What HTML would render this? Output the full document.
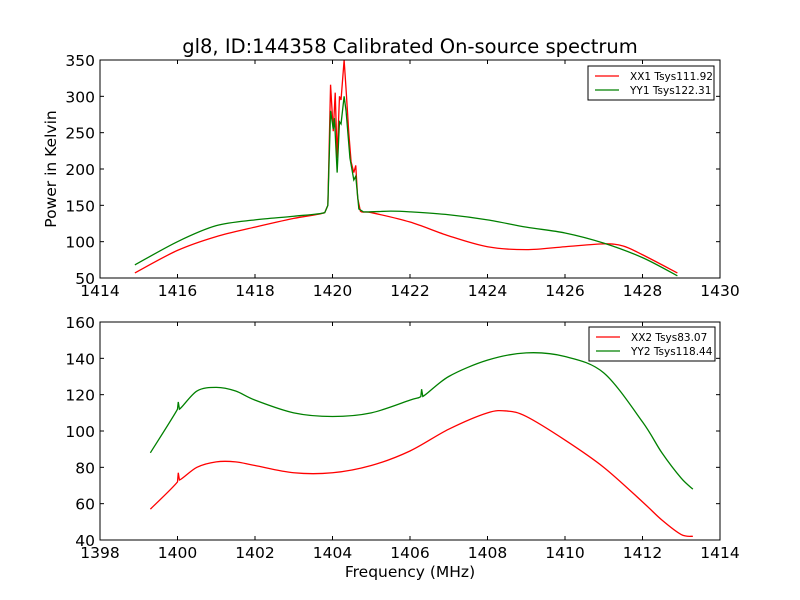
<!DOCTYPE html>
<html><head><meta charset="utf-8"><style>
body{margin:0;background:#fff;}
svg{display:block;font-family:"DejaVu Sans","Liberation Sans",sans-serif;}
</style></head><body>
<svg id="c" width="800" height="600"></svg>
<script>
const topTicksX=[1414,1416,1418,1420,1422,1424,1426,1428,1430];
const topTicksY=[50,100,150,200,250,300,350];
const botTicksX=[1398,1400,1402,1404,1406,1408,1410,1412,1414];
const botTicksY=[40,60,80,100,120,140,160];
const xx1F=[1414.9,1416,1417,1418,1419,1419.8,1419.88,1419.95,1420.02,1420.07,1420.12,1420.18,1420.22,1420.3,1420.35,1420.42,1420.48,1420.55,1420.6,1420.65,1420.72,1421,1422,1423,1424,1425,1426,1427,1427.5,1428,1428.9];
const xx1V=[57,88,107,120,132,140,150,316,252,305,215,300,295,350,310,250,210,195,205,160,142,140,127,108,93,89,93,97,94,82,57];
const yy1F=[1414.9,1416,1417,1418,1419,1419.8,1419.88,1419.95,1420.02,1420.05,1420.12,1420.18,1420.22,1420.3,1420.35,1420.45,1420.5,1420.55,1420.6,1420.68,1420.8,1421.5,1422,1423,1424,1425,1426,1427,1428,1428.9];
const yy1V=[68,100,122,130,135,140,150,280,255,270,195,265,262,300,280,215,200,185,190,145,141,142,141,137,130,120,112,98,78,53];
const xx2F=[1399.3,1400,1400.02,1400.05,1400.5,1401,1401.5,1402,1403,1404,1405,1406,1407,1408,1408.5,1409,1410,1411,1412,1412.5,1413,1413.3];
const xx2V=[57,72,77,73,80,83,83,81,77,77,81,89,101,110,111,108,95,80,61,51,43,42];
const yy2F=[1399.3,1400,1400.02,1400.05,1400.5,1401,1401.5,1402,1403,1404,1405,1406,1406.28,1406.3,1406.33,1407,1408,1409,1410,1411,1412,1412.5,1413,1413.3];
const yy2V=[88,112,116,112,122,124,122,117,110,108,110,117,119,123,119,130,139,143,141,132,105,88,74,68];
const NS="http://www.w3.org/2000/svg";
const svg=document.getElementById('c');
function mk(t,a,p){const e=document.createElementNS(NS,t);for(const k in a)e.setAttribute(k,a[k]);(p||svg).appendChild(e);return e;}
function smooth(pts){
  let d='M'+pts[0][0].toFixed(2)+','+pts[0][1].toFixed(2);
  for(let i=0;i<pts.length-1;i++){
    const p0=pts[Math.max(0,i-1)],p1=pts[i],p2=pts[i+1],p3=pts[Math.min(pts.length-1,i+2)];
    const dx=p2[0]-p1[0];
    if(dx<8){d+='L'+p2[0].toFixed(2)+','+p2[1].toFixed(2);continue;}
    const t=0.16;
    const c1=[p1[0]+(p2[0]-p0[0])*t,p1[1]+(p2[1]-p0[1])*t];
    const c2=[p2[0]-(p3[0]-p1[0])*t,p2[1]-(p3[1]-p1[1])*t];
    d+='C'+c1.map(v=>v.toFixed(2)).join(',')+' '+c2.map(v=>v.toFixed(2)).join(',')+' '+p2[0].toFixed(2)+','+p2[1].toFixed(2);
  }
  return d;
}
function panel(y0,y1,xmin,xmax,ymin,ymax,tx,ty,series,legend,lx,ly,name){
  const X=v=>100+(v-xmin)/(xmax-xmin)*620;
  const Y=v=>y1-(v-ymin)/(ymax-ymin)*(y1-y0);
  const g=mk('g',{});
  
  
  series.forEach(s=>{
    const p=mk('path',{d:smooth(s.f.map((f,i)=>[X(f),Y(s.v[i])])),fill:'none',stroke:s.c,'stroke-width':1.3},g);
    
    
  });
  const fr=mk('rect',{x:100,y:y0,width:620,height:y1-y0,fill:'none',stroke:'#000','stroke-width':1},g);
  
  
  tx.forEach(t=>{const x=X(t);
    mk('line',{x1:x,x2:x,y1:y1,y2:y1-4,stroke:'#000'},g);mk('line',{x1:x,x2:x,y1:y0,y2:y0+4,stroke:'#000'},g);
    const l=mk('text',{x:x,y:y1+18,'text-anchor':'middle','font-size':15.5},g);l.textContent=t;
    
    });
  ty.forEach(t=>{const y=Y(t);
    mk('line',{x1:100,x2:104,y1:y,y2:y,stroke:'#000'},g);mk('line',{x1:720,x2:716,y1:y,y2:y,stroke:'#000'},g);
    const l=mk('text',{x:95,y:y+6,'text-anchor':'end','font-size':15.5},g);l.textContent=t;
    
    });
  const lg=mk('g',{},g);
  
  
  mk('rect',{x:lx,y:ly,width:126,height:34,fill:'#fff',stroke:'#000'},lg);
  legend.forEach((L,i)=>{const yy=ly+10+i*14;
    mk('line',{x1:lx+7,x2:lx+31,y1:yy,y2:yy,stroke:L.c,'stroke-width':1.3},lg);
    const t=mk('text',{x:lx+42,y:yy+4,'font-size':10.5},lg);t.textContent=L.t;
    
    });
}
panel(60,278,1414,1430,50,350,topTicksX,topTicksY,[{f:xx1F,v:xx1V,c:'#ff0000',n:'series-xx1'},{f:yy1F,v:yy1V,c:'#008000',n:'series-yy1'}],
  [{c:'#ff0000',t:'XX1 Tsys111.92'},{c:'#008000',t:'YY1 Tsys122.31'}],588,66,'top-plot');
panel(322,540,1398,1414,40,160,botTicksX,botTicksY,[{f:xx2F,v:xx2V,c:'#ff0000',n:'series-xx2'},{f:yy2F,v:yy2V,c:'#008000',n:'series-yy2'}],
  [{c:'#ff0000',t:'XX2 Tsys83.07'},{c:'#008000',t:'YY2 Tsys118.44'}],589,327,'bottom-plot');
let t=mk('text',{x:410,y:53,'text-anchor':'middle','font-size':19.5});t.textContent='gl8, ID:144358 Calibrated On-source spectrum';


t=mk('text',{x:410,y:577,'text-anchor':'middle','font-size':15.5});t.textContent='Frequency (MHz)';


t=mk('text',{x:56,y:169,'text-anchor':'middle','font-size':15.5,transform:'rotate(-90 56 169)'});t.textContent='Power in Kelvin';


</script>
</body></html>
